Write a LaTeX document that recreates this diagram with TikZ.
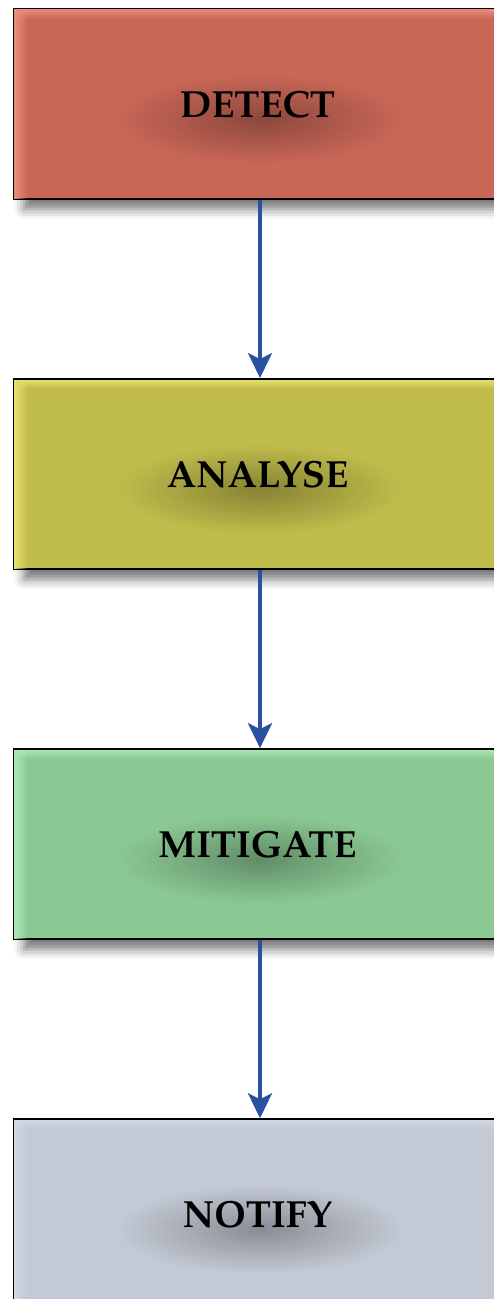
\documentclass[tikz,border=0pt]{standalone}
\usepackage[T1]{fontenc}
\usepackage{mathpazo}
\usetikzlibrary{positioning,arrows.meta,shadows.blur,fadings}

\definecolor{detectred}{HTML}{C96757}
\definecolor{detectlight}{HTML}{EA8B7B}
\definecolor{analyseyellow}{HTML}{C0BC4B}
\definecolor{analyselight}{HTML}{E6E06C}
\definecolor{mitigategreen}{HTML}{8BC994}
\definecolor{mitigatelight}{HTML}{ACE8B4}
\definecolor{notifygrey}{HTML}{C4CAD5}
\definecolor{notifylight}{HTML}{D2D8E2}
\definecolor{flowblue}{HTML}{2A519F}

\tikzset{
	stagebox/.style={draw=black, line width=1.2pt, minimum width=9.84cm, minimum height=3.8cm,
		inner sep=0pt,
		blur shadow={shadow xshift=0.2cm, shadow yshift=-0.2cm, shadow blur radius=0.2cm, shadow opacity=55}},
	stagelabel/.style={font=\fontsize{21.5}{25}\selectfont\bfseries},
	stageflow/.style={draw=flowblue, line width=2.2pt, -{Stealth[length=0.5cm,width=0.48cm,inset=0.12cm]}},
}

\begin{document}
\begin{tikzpicture}
	\useasboundingbox (0,0) rectangle (9.88,-25.98);
	% the four stages
	\node [stagebox, fill=detectred] (detect) at (5.2,-2.08) {};
	\node [stagebox, fill=analyseyellow, below=3.56cm of detect] (analyse) {};
	\node [stagebox, fill=mitigategreen, below=3.56cm of analyse] (mitigate) {};
	\node [stagebox, fill=notifygrey, below=3.56cm of mitigate] (notify) {};
	% lighter inner edges and soft text shadows
	\foreach \n/\c/\m in {detect/detectlight/detectred, analyse/analyselight/analyseyellow,
		mitigate/mitigatelight/mitigategreen, notify/notifylight/notifygrey} {
		\fill [\c, path fading=east] ([shift={(0.03,0.03)}]\n.south west) rectangle ([shift={(0.3,-0.03)}]\n.north west);
		\fill [\c, path fading=south] ([shift={(0.03,-0.03)}]\n.north west) rectangle ([shift={(-0.03,-0.22)}]\n.north east);
		\shade [inner color=\m!70!black, outer color=\m] ([shift={(0,-0.3)}]\n.center) ellipse (2.9cm and 0.9cm);
	}
	% labels
	\node [stagelabel] (detecttext) at ([xshift=-0.05cm]detect) {DETECT};
	\node [stagelabel] (analysetext) at ([xshift=-0.05cm]analyse) {ANALYSE};
	\node [stagelabel] (mitigatetext) at ([xshift=-0.05cm]mitigate) {MITIGATE};
	\node [stagelabel] (notifytext) at ([xshift=-0.05cm]notify) {NOTIFY};
	% flow
	\draw [stageflow] (detect) -- (analyse);
	\draw [stageflow] (analyse) -- (mitigate);
	\draw [stageflow] (mitigate) -- (notify);
\end{tikzpicture}
\end{document}
